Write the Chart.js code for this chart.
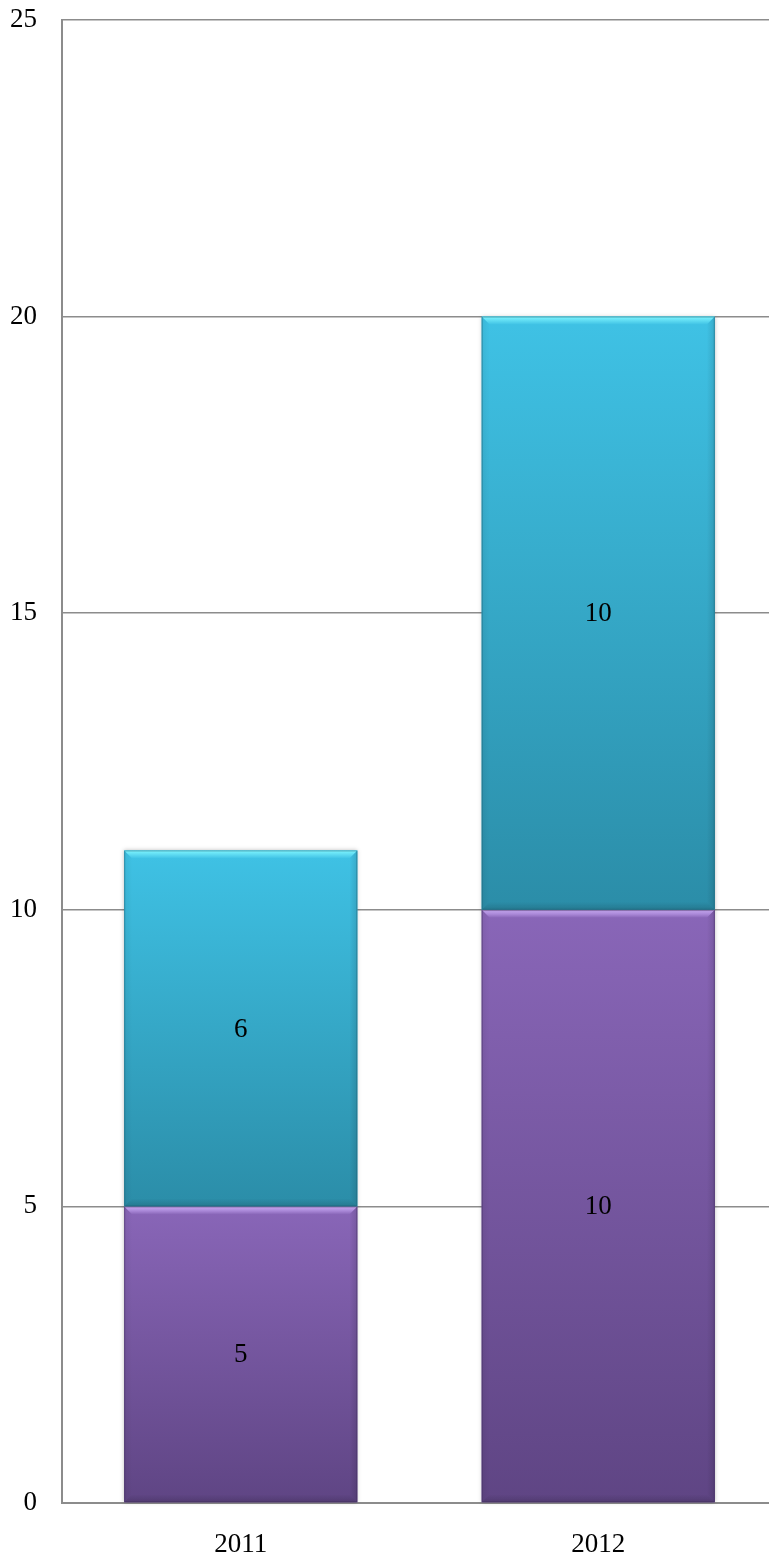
<!DOCTYPE html>
<html>
<head>
<meta charset="utf-8">
<script src="https://cdn.jsdelivr.net/npm/chart.js@4/dist/chart.umd.min.js"></script>
<style>
  html, body { margin: 0; padding: 0; background: #fff; overflow: hidden; }
  #wrap { width: 777px; height: 1560px; }
</style>
</head>
<body>
<div id="wrap"><canvas id="barChart" width="777" height="1560"></canvas></div>
<script>
// --- Data ---
const years = ["2011", "2012"];
const lowerValues = [5, 10];
const upperValues = [6, 10];
const yTicks = [0, 5, 10, 15, 20, 25];

const FONT = "'Liberation Serif', 'DejaVu Serif', serif";

// colour sets: top of bar, bottom of bar, bevel highlight, edge
const palettes = [
  { top: "#8966b8", bottom: "#5f4584", light: "#d2b2ff", edge: "#3f2c5c" },
  { top: "#3fc2e5", bottom: "#2b8da8", light: "#80f6ff", edge: "#1d5f73" }
];

// --- Bevel / gradient look drawn over each bar ---
const bevelBars = {
  id: "bevelBars",
  afterDatasetsDraw(chart) {
    const ctx = chart.ctx;
    chart.data.datasets.forEach((ds, di) => {
      const meta = chart.getDatasetMeta(di);
      const pal = palettes[di];
      meta.data.forEach((bar, i) => {
        const p = bar.getProps(["x", "y", "base", "width"], true);
        const left = p.x - p.width / 2, right = p.x + p.width / 2;
        const top = Math.min(p.y, p.base), bottom = Math.max(p.y, p.base);
        const b = 8;

        ctx.save();
        // main body
        ctx.shadowColor = "rgba(0,0,0,0.25)";
        ctx.shadowBlur = 4;
        const g = ctx.createLinearGradient(0, top, 0, bottom);
        g.addColorStop(0, pal.top);
        g.addColorStop(1, pal.bottom);
        ctx.fillStyle = g;
        ctx.fillRect(left, top, right - left, bottom - top);
        ctx.shadowBlur = 0;
        ctx.shadowColor = "transparent";

        // top bevel
        const tg = ctx.createLinearGradient(0, top, 0, top + b);
        tg.addColorStop(0, pal.light);
        tg.addColorStop(1, pal.top);
        ctx.fillStyle = tg;
        ctx.beginPath();
        ctx.moveTo(left, top);
        ctx.lineTo(right, top);
        ctx.lineTo(right - b, top + b);
        ctx.lineTo(left + b, top + b);
        ctx.closePath();
        ctx.fill();

        // right side, soft shade
        const rg = ctx.createLinearGradient(right - b, 0, right, 0);
        rg.addColorStop(0, "rgba(0,0,0,0)");
        rg.addColorStop(1, "rgba(0,0,0,0.12)");
        ctx.fillStyle = rg;
        ctx.beginPath();
        ctx.moveTo(right, top);
        ctx.lineTo(right, bottom);
        ctx.lineTo(right - b, bottom - b);
        ctx.lineTo(right - b, top + b);
        ctx.closePath();
        ctx.fill();

        // left side, soft shade
        const lg = ctx.createLinearGradient(left, 0, left + b, 0);
        lg.addColorStop(0, "rgba(0,0,0,0.06)");
        lg.addColorStop(1, "rgba(0,0,0,0)");
        ctx.fillStyle = lg;
        ctx.beginPath();
        ctx.moveTo(left, top);
        ctx.lineTo(left + b, top + b);
        ctx.lineTo(left + b, bottom - b);
        ctx.lineTo(left, bottom);
        ctx.closePath();
        ctx.fill();

        // bottom edge
        const bg = ctx.createLinearGradient(0, bottom - b, 0, bottom);
        bg.addColorStop(0, "rgba(0,0,0,0)");
        bg.addColorStop(1, "rgba(0,0,0,0.15)");
        ctx.fillStyle = bg;
        ctx.beginPath();
        ctx.moveTo(left, bottom);
        ctx.lineTo(right, bottom);
        ctx.lineTo(right - b, bottom - b);
        ctx.lineTo(left + b, bottom - b);
        ctx.closePath();
        ctx.fill();

        // thin outline
        ctx.strokeStyle = pal.edge;
        ctx.globalAlpha = 0.45;
        ctx.lineWidth = 1;
        ctx.strokeRect(left + 0.5, top + 0.5, right - left - 1, bottom - top - 1);
        ctx.globalAlpha = 1;

        // value label
        ctx.fillStyle = "#000";
        ctx.font = "27px " + FONT;
        ctx.textAlign = "center";
        ctx.textBaseline = "middle";
        ctx.fillText(String(ds.data[i]), p.x, (top + bottom) / 2 + 1);
        ctx.restore();
      });
    });
  }
};

// --- Chart ---
const ctx = document.getElementById("barChart").getContext("2d");

const barChart = new Chart(ctx, {
  type: "bar",
  data: {
    labels: years,
    datasets: [
      {
        label: "Lower",
        data: lowerValues,
        backgroundColor: palettes[0].top,
        categoryPercentage: 1,
        barPercentage: 0.652
      },
      {
        label: "Upper",
        data: upperValues,
        backgroundColor: palettes[1].top,
        categoryPercentage: 1,
        barPercentage: 0.652
      }
    ]
  },
  options: {
    responsive: false,
    animation: false,
    devicePixelRatio: 1,
    layout: { padding: 0 },
    plugins: {
      legend: { display: false },
      tooltip: { enabled: false }
    },
    scales: {
      x: {
        stacked: true,
        grid: { display: false, drawTicks: false },
        border: { display: true, color: "#8c8c8c", width: 2 },
        ticks: { color: "#000", font: { family: FONT, size: 27 }, padding: 26 },
        afterFit(scale) { scale.height = 57; }
      },
      y: {
        stacked: true,
        min: 0,
        max: 25,
        afterBuildTicks(scale) { scale.ticks = yTicks.map(v => ({ value: v })); },
        grid: { color: "#8c8c8c", lineWidth: 1.5, drawTicks: false },
        border: { display: true, color: "#8c8c8c", width: 2 },
        ticks: { color: "#000", font: { family: FONT, size: 27 }, padding: 25 },
        afterFit(scale) { scale.width = 62; scale.paddingTop = 20; }
      }
    }
  },
  plugins: [bevelBars]
});
</script>
</body>
</html>
